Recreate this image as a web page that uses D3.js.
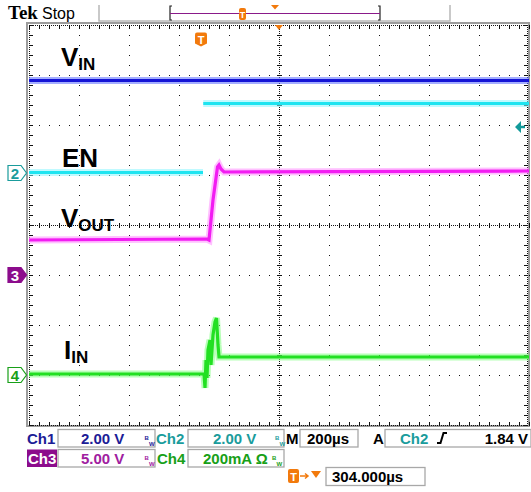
<!DOCTYPE html>
<html>
<head>
<meta charset="utf-8">
<script src="https://cdn.jsdelivr.net/npm/d3@7"></script>
<style>
  html, body { margin: 0; padding: 0; background: #fff; }
  svg { display: block; }
  .ui { font-family: "Liberation Sans", Arial, sans-serif; font-weight: bold; }
</style>
</head>
<body>
<script>
// ---- Acquisition setup (200 µs/div, trigger at 304 µs left of centre) ----
const timeWindow = [-696, 1304];          // µs, 10 divisions
const timePerDiv = 200;                    // µs/div
const chScales = { ch1: 2, ch2: 2, ch3: 5, ch4: 200 };   // V/div, V/div, V/div, mA/div
const chOffsets = { ch1: 1.04, ch2: 1.04, ch3: -1, ch4: -3 }; // ground position, div from centre

// ---- Captured waveforms (time in µs) ----
const vinTime = [-696, 1304];
const vinVolts = [3.70, 3.70];

const enTime = [-696, 0, 0, 1, 1304];
const enVolts = [0.02, 0.02, null, 2.78, 2.78];

const voutTime = [-696, 16, 24, 40, 58, 64, 72, 84, 1304];
const voutVolts = [3.5, 3.6, 3.5, 7.5, 10.8, 11.0, 10.6, 10.3, 10.4];

const iinTime = [-696, 4, 8, 12, 16, 20, 28, 32, 40, 48, 54, 60, 64, 1304];
const iinMilliamps = [4, 4, -52, 60, -12, 100, 140, 40, 160, 212, 228, 120, 72, 72];

// ---- Readout text ----
const ch1Readout = "2.00 V";
const ch2Readout = "2.00 V";
const ch3Readout = "5.00 V";
const ch4Readout = "200mA \u03A9";
const horizReadout = "200\u00B5s";
const trigSource = "Ch2";
const trigLevelVolts = 1.84;
const trigLevel = trigLevelVolts.toFixed(2) + " V";
const trigPosReadout = "304.000\u00B5s";

// ---- Screen geometry ----
const W = 531, H = 492;
const G = { left: 29, right: 529, top: 25, bottom: 425 };
const divPx = 50;
const midY = (G.top + G.bottom) / 2;

const svg = d3.select("body").append("svg").attr("width", W).attr("height", H);

const x = d3.scaleLinear().domain(timeWindow).range([G.left, G.right]);
function chScale(ch) {
  const y0 = midY - chOffsets[ch] * divPx;
  return d3.scaleLinear().domain([0, chScales[ch]]).range([y0, y0 - divPx]);
}
const y1 = chScale("ch1"), y2 = chScale("ch2"), y3 = chScale("ch3"), y4 = chScale("ch4");

// ---- Graticule ----
const grid = svg.append("g");
grid.append("rect").attr("x", G.left - 2).attr("y", G.top - 2)
  .attr("width", G.right - G.left + 2).attr("height", G.bottom - G.top + 3)
  .attr("fill", "none").attr("stroke", "#9c9c9c").attr("stroke-width", 2);

const divTimes = d3.range(11).map(i => timeWindow[0] + i * timePerDiv);
const divXs = divTimes.map(t => Math.round(x(t)));
const divYs = d3.range(9).map(k => G.top + k * divPx);
const centreX = divXs[5], centreY = divYs[4];

const dots = [];
// ordinary division lines: a dot every 10 px
divXs.slice(1, 10).forEach((gx, i) => {
  if (i === 4) return;
  for (let yy = G.top; yy <= G.bottom; yy += 10) dots.push([gx, yy, 1, 1]);
});
divYs.slice(1, 8).forEach((gy, k) => {
  if (k === 3) return;
  for (let xx = G.left; xx <= G.right; xx += 10) dots.push([xx, gy, 1, 1]);
});
// centre axes: dense dots with minor ticks
for (let yy = G.top; yy <= G.bottom; yy += 2) dots.push([centreX, yy, 1, 1]);
for (let xx = G.left; xx <= G.right; xx += 2) dots.push([xx, centreY, 1, 1]);
for (let yy = G.top; yy <= G.bottom; yy += 10) dots.push([centreX - 2, yy, 5, 1]);
for (let xx = G.left; xx <= G.right; xx += 10) dots.push([xx, centreY - 2, 1, 5]);
// border: dense dots with inward ticks
for (let xx = G.left; xx <= G.right - 1; xx += 2) { dots.push([xx, G.top, 1, 1]); dots.push([xx, G.bottom, 1, 1]); }
for (let yy = G.top; yy <= G.bottom; yy += 2) { dots.push([G.left, yy, 1, 1]); dots.push([G.right - 2, yy, 1, 1]); }
for (let xx = G.left; xx <= G.right; xx += 10) { dots.push([xx, G.top, 1, 4]); dots.push([xx, G.bottom - 3, 1, 4]); }
for (let yy = G.top; yy <= G.bottom; yy += 10) { dots.push([G.left, yy, 4, 1]); dots.push([G.right - 5, yy, 4, 1]); }

grid.selectAll("rect.dot").data(dots).join("rect").attr("class", "dot")
  .attr("x", d => d[0]).attr("y", d => d[1]).attr("width", d => d[2]).attr("height", d => d[3])
  .attr("fill", "#111");

// ---- Traces ----
function drawTrace(times, values, yScale, halo, core) {
  const pts = times.map((t, i) => [t, values[i]]);
  const line = d3.line().defined(d => d[1] !== null).x(d => x(d[0])).y(d => yScale(d[1]));
  const g = svg.append("g");
  g.append("path").attr("d", line(pts)).attr("fill", "none")
    .attr("stroke", halo).attr("stroke-width", 7).attr("stroke-opacity", 0.55);
  g.append("path").attr("d", line(pts)).attr("fill", "none")
    .attr("stroke", core).attr("stroke-width", 3.2);
}
drawTrace(vinTime, vinVolts, y1, "#5a6cff", "#1414d6");
drawTrace(enTime, enVolts, y2, "#8cf6ff", "#1ee4f0");
drawTrace(voutTime, voutVolts, y3, "#ff8cff", "#f21cf2");
drawTrace(iinTime, iinMilliamps, y4, "#7cff7c", "#22e022");

// ---- Signal names ----
function sigLabel(px, py, main, sub) {
  const t = svg.append("text").attr("class", "ui").attr("x", px).attr("y", py)
    .attr("font-size", 26).attr("fill", "#000").text(main);
  if (sub) t.append("tspan").attr("font-size", 17).attr("dy", 4).text(sub);
}
sigLabel(61, 66, "V", "IN");
sigLabel(62, 167, "EN");
sigLabel(61, 227, "V", "OUT");
sigLabel(64, 359, "I", "IN");

// ---- Channel ground markers ----
function gndMarker(ch, label, stroke, fill, textFill) {
  const yy = Math.round(chScale(ch)(0));
  const g = svg.append("g");
  g.append("path").attr("d", `M8,${yy - 7.5} H21 L26.5,${yy} L21,${yy + 7.5} H8 Z`)
    .attr("fill", fill).attr("stroke", stroke).attr("stroke-width", 1.2);
  g.append("text").attr("class", "ui").attr("x", 15).attr("y", yy + 5.5)
    .attr("text-anchor", "middle").attr("font-size", 15).attr("fill", textFill).text(label);
}
gndMarker("ch2", "2", "#1a9c9c", "#fff", "#1a9c9c");
gndMarker("ch3", "3", "#8c0c8c", "#8c0c8c", "#fff");
gndMarker("ch4", "4", "#18a018", "#fff", "#18a018");

// trigger level arrow (Ch2)
const trigY = y2(trigLevelVolts);
svg.append("path").attr("d", `M515,${trigY} L521,${trigY - 6} L521,${trigY - 1.2} L525,${trigY - 1.2} L525,${trigY + 1.2} L521,${trigY + 1.2} L521,${trigY + 6} Z`)
  .attr("fill", "#129a9a");

// trigger position markers
const trigX = x(0);
function tBadge(cx, cy, w, h) {
  const g = svg.append("g");
  g.append("path").attr("d", `M${cx - w / 2},${cy - h / 2 + 2} Q${cx - w / 2},${cy - h / 2} ${cx - w / 2 + 2},${cy - h / 2} H${cx + w / 2 - 2} Q${cx + w / 2},${cy - h / 2} ${cx + w / 2},${cy - h / 2 + 2} V${cy + h / 2 - 3} L${cx},${cy + h / 2} L${cx - w / 2},${cy + h / 2 - 3} Z`)
    .attr("fill", "#f27a0c");
  g.append("text").attr("class", "ui").attr("x", cx).attr("y", cy + 4)
    .attr("text-anchor", "middle").attr("font-size", 11).attr("fill", "#fff").text("T");
}
tBadge(trigX - 2, 39.5, 12, 14);
svg.append("path").attr("d", `M${centreX - 4},${G.top} L${centreX + 4},${G.top} L${centreX},${G.top + 5} Z`).attr("fill", "#f27a0c");

// ---- Top status bar ----
svg.append("text").attr("x", 8).attr("y", 19).attr("font-family", "Liberation Serif, serif")
  .attr("font-weight", "bold").attr("font-size", 19).attr("fill", "#000").text("Tek");
svg.append("text").attr("x", 42).attr("y", 19).attr("font-family", "Liberation Sans, Arial, sans-serif")
  .attr("font-size", 16).attr("fill", "#000").text("Stop");
svg.append("path").attr("d", "M99,5 V21 H450 V5").attr("fill", "none").attr("stroke", "#b8b8b8").attr("stroke-width", 1.5);
svg.append("path").attr("d", "M172,6 H170 V20 H172 M378,6 H380 V20 H378").attr("fill", "none").attr("stroke", "#222").attr("stroke-width", 1.2);
svg.append("line").attr("x1", 170).attr("x2", 380).attr("y1", 13.5).attr("y2", 13.5).attr("stroke", "#8a1a8a").attr("stroke-width", 1.2);
svg.append("rect").attr("x", 239).attr("y", 8).attr("width", 7).attr("height", 12).attr("rx", 2).attr("fill", "#f27a0c");
svg.append("text").attr("class", "ui").attr("x", 242.5).attr("y", 17.5).attr("text-anchor", "middle")
  .attr("font-size", 9).attr("fill", "#fff").text("T");
svg.append("path").attr("d", "M271,5 L279,5 L275,9.5 Z").attr("fill", "#f27a0c");

// ---- Bottom readouts ----
const rd = svg.append("g");
function box(x0, y0, w, h) {
  rd.append("rect").attr("x", x0).attr("y", y0).attr("width", w).attr("height", h)
    .attr("fill", "#fff").attr("stroke", "#a8a8a8").attr("stroke-width", 1.3);
}
function txt(px, py, s, color, size, anchor) {
  return rd.append("text").attr("class", "ui").attr("x", px).attr("y", py)
    .attr("font-size", size || 15).attr("fill", color).attr("text-anchor", anchor || "start").text(s);
}
// bandwidth-limit glyph: small B over W
function bw(px, py, color) {
  txt(px, py - 6.5, "B", color, 6);
  txt(px + 4.5, py, "W", color, 6);
}
const blue = "#1c1c96", teal = "#1a9c9c", purple = "#a020a0", purpleBox = "#8c0c8c", green = "#18a018";

// row 1
txt(27, 444, "Ch1", blue);
box(58, 429.5, 97, 17.5);
txt(81, 444, ch1Readout, blue);
bw(144.5, 446, blue);
txt(156, 444, "Ch2", teal);
box(188, 429.5, 96, 17.5);
txt(213, 444, ch2Readout, teal);
bw(275, 446, teal);
txt(286, 444, "M", "#000");
box(300, 429.5, 58, 17.5);
txt(307, 444, horizReadout, "#000");
txt(373, 444, "A", "#000");
box(385, 429.5, 146, 17.5);
txt(400, 444, trigSource, teal);
rd.append("path").attr("d", "M437,443 L440.5,443 L443.5,433 L447,433").attr("fill", "none")
  .attr("stroke", "#000").attr("stroke-width", 2);
txt(528, 444, trigLevel, "#000", 15, "end");

// row 2
rd.append("rect").attr("x", 27).attr("y", 449.5).attr("width", 30).attr("height", 17.5).attr("fill", purpleBox);
txt(28, 464, "Ch3", "#fff");
box(58, 449.5, 97, 17.5);
txt(81, 464, ch3Readout, purple);
bw(144.5, 466, purple);
txt(157, 464, "Ch4", green);
box(188, 449.5, 96, 17.5);
txt(203, 464, ch4Readout, green);
bw(272, 466, green);

// row 3: trigger position
rd.append("rect").attr("x", 288).attr("y", 469).attr("width", 11).attr("height", 14).attr("rx", 2).attr("fill", "#f27a0c");
txt(293.5, 480.5, "T", "#fff", 11, "middle");
rd.append("path").attr("d", "M300,476 H307 M305,473.5 L308,476 L305,478.5").attr("fill", "none")
  .attr("stroke", "#f27a0c").attr("stroke-width", 1.5);
rd.append("path").attr("d", "M311,471 L321,471 L316,478 Z").attr("fill", "#f27a0c");
box(326, 467.5, 99, 18);
txt(332, 482, trigPosReadout, "#000");
</script>
</body>
</html>
